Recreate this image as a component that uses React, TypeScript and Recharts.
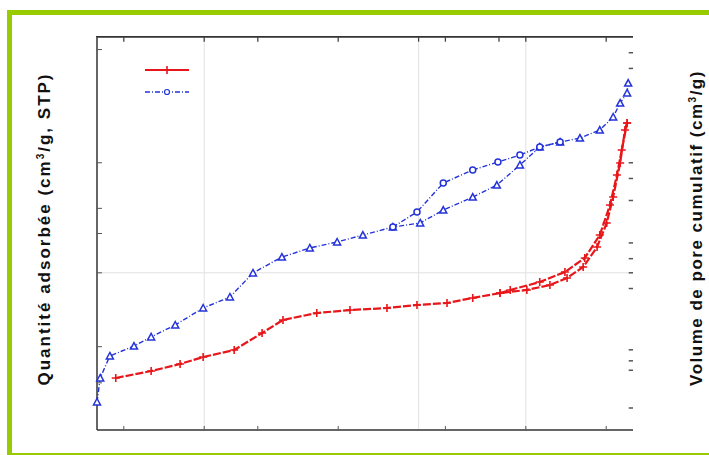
import { LineChart, Line, XAxis, YAxis, ReferenceLine } from 'recharts'

// relative pressure (x) / quantity adsorbed (y)
const blueAdsX = [0.0, 0.006, 0.024, 0.069, 0.101, 0.146, 0.198, 0.248, 0.291, 0.345, 0.397, 0.448, 0.496, 0.552, 0.603, 0.646, 0.701, 0.746, 0.789, 0.826, 0.864, 0.901, 0.938, 0.963, 0.976, 0.989, 0.991]
const blueAdsY = [17.8, 33.1, 47.1, 53.4, 59.2, 66.8, 77.6, 84.6, 99.9, 110.0, 115.8, 119.6, 124.0, 129.1, 131.7, 139.9, 148.2, 155.8, 168.6, 180.0, 183.2, 185.7, 190.8, 199.1, 208.0, 214.4, 220.7]
const blueDesX = [0.552, 0.597, 0.646, 0.701, 0.748, 0.789, 0.826, 0.864]
const blueDesY = [129.1, 138.7, 157.1, 165.4, 170.5, 174.9, 180.0, 183.2]

const redAdsX = [0.035, 0.101, 0.155, 0.198, 0.256, 0.308, 0.347, 0.41, 0.472, 0.541, 0.597, 0.653, 0.701, 0.752, 0.802, 0.845, 0.877, 0.907, 0.933, 0.951, 0.963, 0.976, 0.985, 0.989]
const redAdsY = [33.1, 37.5, 42.0, 46.4, 50.9, 61.7, 70.0, 74.4, 76.3, 77.6, 79.5, 80.8, 84.0, 87.1, 89.1, 92.2, 96.7, 103.7, 116.4, 131.7, 148.2, 169.8, 190.8, 195.3]
const redDesX = [0.752, 0.771, 0.826, 0.873, 0.91, 0.938, 0.957, 0.97, 0.979, 0.989]
const redDesY = [87.1, 89.1, 94.1, 100.5, 109.4, 124.0, 143.1, 162.2, 178.1, 195.3]

const xTicks = [0.05, 0.2, 0.3, 0.45, 0.6, 0.65, 0.75, 0.8, 0.95]
const xGrid = [0.2, 0.6, 0.8]
const leftTicks = [30, 45, 53, 100, 121, 125, 141, 164, 170, 231, 242]
const rightTicks = [14, 38, 44, 51, 90, 100, 109, 119, 146, 160, 170, 230, 240]
const Y_MAX = 250

const RED = '#e8161a'
const BLUE = '#2433d8'

const zip = (xs: number[], ys: number[]) => xs.map((x, i) => ({ x, y: ys[i] }))

const PlusDot = (props: any) => {
  const { cx, cy } = props
  if (cx == null || cy == null) return <g />
  return <path d={`M${cx - 4},${cy}h8M${cx},${cy - 4}v8`} stroke={RED} strokeWidth={1.6} fill="none" />
}
const CircleDot = (props: any) => {
  const { cx, cy } = props
  if (cx == null || cy == null) return <g />
  return <circle cx={cx} cy={cy} r={3} fill="#fff" stroke={BLUE} strokeWidth={1.5} />
}
const TriDot = (props: any) => {
  const { cx, cy } = props
  if (cx == null || cy == null) return <g />
  return <path d={`M${cx},${cy - 3.5}L${cx + 3.5},${cy + 3}L${cx - 3.5},${cy + 3}Z`} fill="#fff" stroke={BLUE} strokeWidth={1.5} />
}

const noTick = () => <g />

const labelStyle: React.CSSProperties = {
  position: 'absolute',
  fontFamily: 'Liberation Sans, Arial, sans-serif',
  fontWeight: 'bold',
  fontSize: 17,
  color: '#111',
  whiteSpace: 'nowrap',
  transform: 'translate(-50%, -50%) rotate(-90deg)',
}

export default function App() {
  return (
    <div style={{ position: 'absolute', left: 0, top: 0, width: 709, height: 455, overflow: 'hidden', background: '#fff' }}>
      <div style={{ position: 'absolute', left: 7, top: 10, width: 720, height: 438, border: '5px solid #99cc00' }} />
      <div style={{ ...labelStyle, left: 45, top: 229, letterSpacing: 2 }}>
        Quantité adsorbée (cm<sup style={{ fontSize: 10 }}>3</sup>/g, STP)
      </div>
      <div style={{ ...labelStyle, left: 697, top: 228, letterSpacing: 1.5 }}>
        Volume de pore cumulatif (cm<sup style={{ fontSize: 10 }}>3</sup>/g)
      </div>
      <svg width={50} height={34} style={{ position: 'absolute', left: 143, top: 62 }}>
        <line x1={2} y1={8} x2={46} y2={8} stroke={RED} strokeWidth={2} />
        <path d="M24,4v8M20,8h8" stroke={RED} strokeWidth={1.6} />
        <line x1={2} y1={30} x2={46} y2={30} stroke={BLUE} strokeWidth={1.3} strokeDasharray="5 2 1 2" />
        <circle cx={24} cy={30} r={2.5} fill="#fff" stroke={BLUE} strokeWidth={1.2} />
      </svg>
      <div style={{ position: 'absolute', left: 0, top: 0 }}>
        <LineChart width={709} height={455} margin={{ top: 37, left: 87, right: 76, bottom: 15 }}>
          <XAxis type="number" dataKey="x" domain={[0, 1]} ticks={xTicks} height={10} tick={noTick}
            axisLine={{ stroke: '#333', strokeWidth: 1.5 }} tickLine={{ stroke: '#555' }} tickSize={-4} />
          <YAxis type="number" domain={[0, Y_MAX]} ticks={leftTicks} width={10} tick={noTick}
            axisLine={{ stroke: '#333', strokeWidth: 1.5 }} tickLine={{ stroke: '#555' }} tickSize={-5} />
          {xGrid.map((v) => (
            <ReferenceLine key={'g' + v} x={v} stroke="#e2e2e2" />
          ))}
          <ReferenceLine y={100} stroke="#e2e2e2" />
          {/* top frame with inward ticks */}
          <ReferenceLine segment={[{ x: 0, y: Y_MAX }, { x: 1, y: Y_MAX }]} stroke="#333" strokeWidth={1.5} ifOverflow="visible" />
          {xTicks.map((v) => (
            <ReferenceLine key={'t' + v} segment={[{ x: v, y: Y_MAX }, { x: v, y: Y_MAX - 3 }]} stroke="#444" strokeWidth={1.3} ifOverflow="visible" />
          ))}
          {/* right axis: ticks only */}
          {rightTicks.map((v) => (
            <ReferenceLine key={'r' + v} segment={[{ x: 0.992, y: v }, { x: 1, y: v }]} stroke="#555" strokeWidth={1.5} />
          ))}
          <Line data={zip(redAdsX, redAdsY)} dataKey="y" stroke={RED} strokeWidth={2.2}
            strokeDasharray="8 2" dot={<PlusDot />} isAnimationActive={false} />
          <Line data={zip(redDesX, redDesY)} dataKey="y" stroke={RED} strokeWidth={2.2}
            strokeDasharray="8 2" dot={<PlusDot />} isAnimationActive={false} />
          <Line data={zip(blueAdsX, blueAdsY)} dataKey="y" stroke={BLUE} strokeWidth={1.4}
            strokeDasharray="5 2 1 2" dot={<TriDot />} isAnimationActive={false} />
          <Line data={zip(blueDesX, blueDesY)} dataKey="y" stroke={BLUE} strokeWidth={1.4}
            strokeDasharray="5 2 1 2" dot={<CircleDot />} isAnimationActive={false} />
        </LineChart>
      </div>
      {/* frame edge along the top of the plot */}
      <div style={{ position: 'absolute', left: 96, top: 36, width: 537, height: 0, borderTop: '1.5px solid #333' }} />
    </div>
  )
}
